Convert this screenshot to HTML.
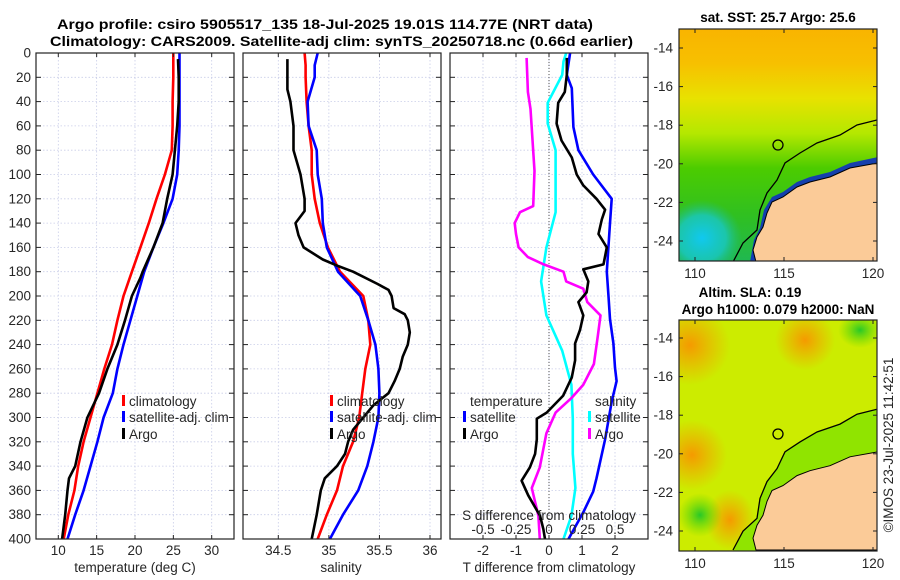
<!DOCTYPE html>
<html><head><meta charset="utf-8">
<style>
html,body{margin:0;padding:0;background:#fff;}
svg{display:block;font-family:"Liberation Sans",sans-serif;}
.tk{font-size:13.5px;fill:#262626;}
.ti{font-size:13.5px;font-weight:bold;fill:#000;}
</style></head>
<body>
<svg id="fig" width="900" height="580" viewBox="0 0 900 580" xmlns="http://www.w3.org/2000/svg">
<defs>
<clipPath id="clip1"><rect x="679" y="29" width="198" height="232"/></clipPath>
<clipPath id="clip2"><rect x="679" y="320" width="198" height="231"/></clipPath>
<linearGradient id="sst" x1="0" y1="0" x2="0" y2="1"><stop offset="0" stop-color="#f9b400"/><stop offset="0.15" stop-color="#f7c000"/><stop offset="0.3" stop-color="#e8e200"/><stop offset="0.45" stop-color="#b4e800"/><stop offset="0.6" stop-color="#4ccc00"/><stop offset="0.8" stop-color="#30c020"/><stop offset="1" stop-color="#20b850"/></linearGradient>
<radialGradient id="cy" cx="0.5" cy="0.5" r="0.5"><stop offset="0" stop-color="#10c8f0"/><stop offset="0.6" stop-color="#18c8c8" stop-opacity="0.8"/><stop offset="1" stop-color="#20c080" stop-opacity="0"/></radialGradient>
<radialGradient id="or" cx="0.5" cy="0.5" r="0.5"><stop offset="0" stop-color="#f59a00"/><stop offset="1" stop-color="#f5a000" stop-opacity="0"/></radialGradient>
<radialGradient id="gr" cx="0.5" cy="0.5" r="0.5"><stop offset="0" stop-color="#28c828"/><stop offset="1" stop-color="#60d800" stop-opacity="0"/></radialGradient>
</defs>
<text class="ti" x="57" y="29" textLength="536" lengthAdjust="spacingAndGlyphs">Argo profile: csiro 5905517_135 18-Jul-2025 19.01S 114.77E (NRT data)</text>
<text class="ti" x="50" y="46" textLength="583" lengthAdjust="spacingAndGlyphs">Climatology: CARS2009. Satellite-adj clim: synTS_20250718.nc (0.66d earlier)</text>
<g id="panels"></g>
<g id="maps"></g>
</svg>
<script>
// ---------- data ----------
const tDepth = [0,20,40,60,80,100,120,140,160,180,200,220,240,260,280,300,320,340,360,380,400];
const tClim  = [25.0,25.0,24.9,24.9,24.8,23.9,22.8,21.8,20.7,19.6,18.5,17.7,17.0,16.0,15.1,14.2,13.3,12.6,12.1,11.3,10.7];
const tSat   = [25.8,25.8,25.8,25.8,25.7,25.5,24.9,23.7,22.4,21.2,20.3,19.4,18.5,17.7,17.1,15.9,15.1,14.2,13.3,12.2,11.2];
const argoDepth = [5,20,40,60,80,100,120,140,160,180,185,200,220,240,260,280,300,320,340,350,360,380,400];
const tArgo  = [25.6,25.7,25.7,25.5,25.2,24.9,24.2,23.6,22.4,21.0,20.7,19.6,18.7,17.7,16.4,15.3,13.8,12.9,12.2,11.4,11.2,10.9,10.5];
const sDepth = [0,10,20,40,60,80,100,120,140,160,180,200,220,240,260,280,300,320,340,360,380,400];
const sClim  = [34.76,34.77,34.77,34.78,34.80,34.83,34.83,34.86,34.91,34.99,35.11,35.34,35.39,35.41,35.36,35.33,35.30,35.24,35.14,35.08,34.98,34.89];
const sSat   = [34.89,34.86,34.86,34.79,34.80,34.88,34.89,34.93,34.94,34.98,35.09,35.31,35.39,35.46,35.49,35.50,35.49,35.44,35.38,35.29,35.14,35.01];
const sArgoDepth = [5,30,40,60,80,100,120,130,140,150,160,170,175,180,190,195,200,210,215,220,230,240,250,260,270,280,290,300,310,320,330,340,350,360,380,400];
const sArgo  = [34.59,34.59,34.62,34.65,34.65,34.72,34.76,34.76,34.67,34.70,34.75,34.94,35.08,35.24,35.48,35.59,35.62,35.64,35.75,35.78,35.80,35.78,35.73,35.70,35.65,35.59,35.44,35.34,35.24,35.19,35.16,35.08,34.96,34.92,34.88,34.83];
const dDepthT = [0,18,29,61,80,100,120,140,160,180,199,219,239,259,270,287,318,350,361,378,400];
const dTSat   = [0.64,0.54,0.69,0.74,0.89,1.34,1.90,1.85,1.80,1.75,1.80,1.85,1.95,2.00,2.05,1.90,1.70,1.44,1.34,1.04,0.59];
const dDepthTA = [4,18,32,41,58,72,86,100,109,120,129,137,149,160,174,178,188,197,205,216,228,239,253,267,282,296,301,318,330,341,352,364,381,392,400];
const dTArgo   = [0.54,0.54,0.48,0.28,0.23,0.38,0.69,0.84,1.04,1.44,1.70,1.60,1.50,1.75,1.65,1.04,1.19,1.14,0.89,1.04,0.94,0.79,0.79,0.69,0.43,-0.07,-0.37,-0.37,-0.42,-0.58,-0.83,-0.63,-0.27,-0.17,-0.12];
const dDepthS = [0,7,18,41,58,80,103,131,160,188,216,245,273,301,330,358,381,400];
const dSSat   = [0.13,0.11,0.10,-0.01,-0.01,0.05,0.05,0.05,-0.02,-0.06,-0.02,0.10,0.17,0.18,0.18,0.20,0.17,0.11];
const dDepthSA = [4,32,46,97,126,131,140,149,160,168,174,180,188,194,205,216,233,256,273,284,296,313,341,358,381,400];
const dSArgo   = [-0.17,-0.16,-0.14,-0.11,-0.12,-0.22,-0.26,-0.25,-0.23,-0.16,-0.04,0.11,0.13,0.26,0.29,0.39,0.37,0.34,0.26,0.17,0.05,-0.02,-0.07,-0.13,-0.08,-0.07];
const depthTicks = [0,20,40,60,80,100,120,140,160,180,200,220,240,260,280,300,320,340,360,380,400];
const tempTicks = [10,15,20,25,30];
const salTicks = [34.5,35,35.5,36];
const dTTicks = [-2,-1,0,1,2];
const dSTicks = [-0.5,-0.25,0,0.25,0.5];
const dSTickLabels = ['-0.5','-0.25','0','0.25','0.5'];
const lonTicks = [110,115,120];
const latTicks = [-14,-16,-18,-20,-22,-24];

// ---------- helpers ----------
const NS='http://www.w3.org/2000/svg';
function mk(tag, attrs, parent){const e=document.createElementNS(NS,tag);for(const k in attrs)e.setAttribute(k,attrs[k]);(parent||document.getElementById('panels')).appendChild(e);return e;}
const Y0=53, Y1=539;
const yS = d => Y0 + d/400*(Y1-Y0);
function lin(d0,d1,r0,r1){return v=>r0+(v-d0)/(d1-d0)*(r1-r0);}
const P1={x0:36,x1:234}, P2={x0:243,x1:441}, P3={x0:450,x1:648};
const xT = lin(10,30,58.3,211.7);
const xS = lin(34.5,36,278.3,430);
const xDT = lin(-2,2,483,615);
const xDS = v => xDT(v*4);

function frame(P,name){
  const g=mk('g',{});
  
  
  return g;
}
function grid(g,P,xs,xf){
  depthTicks.forEach(d=>{mk('line',{x1:P.x0,x2:P.x1,y1:yS(d),y2:yS(d),stroke:'#c9cde8','stroke-width':0.8,'stroke-dasharray':'1.5,2'},g);});
  xs.forEach(v=>{mk('line',{x1:xf(v),x2:xf(v),y1:Y0,y2:Y1,stroke:'#c9cde8','stroke-width':0.8,'stroke-dasharray':'1.5,2'},g);});
}
function box(g,P,xs,xf){
  depthTicks.forEach(d=>{mk('line',{x1:P.x0,x2:P.x0+5,y1:yS(d),y2:yS(d),stroke:'#222','stroke-width':1},g);mk('line',{x1:P.x1-5,x2:P.x1,y1:yS(d),y2:yS(d),stroke:'#222','stroke-width':1},g);});
  xs.forEach(v=>{mk('line',{x1:xf(v),x2:xf(v),y1:Y1,y2:Y1-4,stroke:'#222','stroke-width':1},g);mk('line',{x1:xf(v),x2:xf(v),y1:Y0,y2:Y0+4,stroke:'#222','stroke-width':1},g);});
  mk('rect',{x:P.x0,y:Y0,width:P.x1-P.x0,height:Y1-Y0,fill:'none',stroke:'#222','stroke-width':1.2},g);
}
function series(g,depths,vals,xf,color,name){
  const pts=depths.map((d,i)=>xf(vals[i]).toFixed(1)+','+yS(d).toFixed(1)).join(' ');
  const p=mk('polyline',{points:pts,fill:'none',stroke:color,'stroke-width':2.6,'stroke-linejoin':'round'},g);
  
  
}
function txt(g,x,y,s,cls,anchor,name){
  const t=mk('text',{x:x,y:y,class:cls||'tk','text-anchor':anchor||'start'},g);t.textContent=s;
  
  
  return t;
}
function legendEntry(g,x,y,color,label){
  const r=mk('rect',{x:x,y:y-6,width:3,height:11,fill:color},g);
  
  
  txt(g,x+7,y+5,label,'tk','start','legend-entry');
}

// ---------- panel 1: temperature ----------
let g=frame(P1,'temperature-panel');
grid(g,P1,tempTicks,xT);
series(g,tDepth,tClim,xT,'#ff0000','climatology-temp-line');
series(g,tDepth,tSat,xT,'#0000ff','satellite-temp-line');
series(g,argoDepth,tArgo,xT,'#000000','argo-temp-line');
box(g,P1,tempTicks,xT);
depthTicks.forEach(d=>txt(g,31,yS(d)+4.5,String(d),'tk','end','y-tick-label'));
tempTicks.forEach(v=>txt(g,xT(v),555,String(v),'tk','middle','x-tick-label'));
txt(g,135,572,'temperature (deg C)','tk','middle','x-axis-title');
legendEntry(g,122,401,'#ff0000','climatology');
legendEntry(g,122,417,'#0000ff','satellite-adj. clim');
legendEntry(g,122,434,'#000000','Argo');

// ---------- panel 2: salinity ----------
g=frame(P2,'salinity-panel');
grid(g,P2,salTicks,xS);
series(g,sDepth,sClim,xS,'#ff0000','climatology-sal-line');
series(g,sDepth,sSat,xS,'#0000ff','satellite-sal-line');
series(g,sArgoDepth,sArgo,xS,'#000000','argo-sal-line');
box(g,P2,salTicks,xS);
salTicks.forEach(v=>txt(g,xS(v),555,String(v),'tk','middle','x-tick-label'));
txt(g,341,572,'salinity','tk','middle','x-axis-title');
legendEntry(g,330,401,'#ff0000','climatology');
legendEntry(g,330,417,'#0000ff','satellite-adj. clim');
legendEntry(g,330,434,'#000000','Argo');

// ---------- panel 3: differences ----------
g=frame(P3,'difference-panel');
grid(g,P3,dTTicks,xDT);
mk('line',{x1:xDT(0),x2:xDT(0),y1:Y0,y2:Y1,stroke:'#555','stroke-width':1,'stroke-dasharray':'1,2'},g);
series(g,dDepthS,dSSat,xDS,'#00ffff','satellite-sal-diff-line');
series(g,dDepthT,dTSat,xDT,'#0000ff','satellite-temp-diff-line');
series(g,dDepthSA,dSArgo,xDS,'#ff00ff','argo-sal-diff-line');
series(g,dDepthTA,dTArgo,xDT,'#000000','argo-temp-diff-line');
box(g,P3,dTTicks,xDT);
dTTicks.forEach(v=>txt(g,xDT(v),555,String(v),'tk','middle','x-tick-label'));
txt(g,549,572,'T difference from climatology','tk','middle','x-axis-title');
txt(g,549,520,'S difference from climatology','tk','middle','s-axis-title');
dSTicks.forEach((v,i)=>txt(g,xDS(v),534,dSTickLabels[i],'tk','middle','s-tick-label'));
txt(g,470,406,'temperature','tk','start','legend-title-temperature');
legendEntry(g,463,417,'#0000ff','satellite');
legendEntry(g,463,434,'#000000','Argo');
txt(g,595,406,'salinity','tk','start','legend-title-salinity');
legendEntry(g,588,417,'#00ffff','satellite');
legendEntry(g,588,434,'#ff00ff','Argo');

// ---------- maps ----------
const M=document.getElementById('maps');
function mapAxes(gm,top,bot,latTop){
  const lonX=lin(110,120,695,873);
  const latY=lin(-14,-24,latTop,latTop+193);
  latTicks.forEach(v=>{txt(gm,673,latY(v)+4.5,String(v),'tk','end','lat-tick-label');
    mk('line',{x1:679,x2:683,y1:latY(v),y2:latY(v),stroke:'#222'},gm);mk('line',{x1:873,x2:877,y1:latY(v),y2:latY(v),stroke:'#222'},gm);});
  lonTicks.forEach(v=>{txt(gm,lonX(v),bot+17,String(v),'tk','middle','lon-tick-label');
    mk('line',{x1:lonX(v),x2:lonX(v),y1:bot,y2:bot-4,stroke:'#222'},gm);mk('line',{x1:lonX(v),x2:lonX(v),y1:top,y2:top+4,stroke:'#222'},gm);});
}
function land(gm,dy,scaleY){
  const f=y=>dy+(y-29)*scaleY;
  const pts=[[878,163],[850,168],[830,177],[810,182],[797,187],[783,197],[772,202],[767,213],[763,227],[757,237],[753,250],[756,262],[878,262]];
  mk('polygon',{points:pts.map(p=>p[0]+','+f(p[1]).toFixed(1)).join(' '),fill:'#fbcb98',stroke:'#000','stroke-width':1},gm);
  const shelf=[[877,120],[857,125],[840,135],[817,143],[800,153],[785,163],[777,180],[767,193],[760,210],[757,230],[743,243],[733,262]];
  mk('polyline',{points:shelf.map(p=>p[0]+','+f(p[1]).toFixed(1)).join(' '),fill:'none',stroke:'#000','stroke-width':1.3},gm);
  mk('circle',{cx:778,cy:f(145),r:5,fill:'none',stroke:'#000','stroke-width':1.3},gm);
}
// map 1
let gm=mk('g',{},M);


let gc=mk('g',{'clip-path':'url(#clip1)'},gm);
mk('rect',{x:679,y:29,width:198,height:232,fill:'url(#sst)'},gc);
mk('ellipse',{cx:702,cy:238,rx:40,ry:38,fill:'url(#cy)'},gc);
mk('path',{d:'M878,157 L850,163 L830,172 L810,177 L797,182 L783,192 L772,197 L764,210 L760,228 L754,240 L750,262 L757,262 L753,250 L757,237 L763,227 L767,213 L772,202 L783,197 L797,187 L810,182 L830,177 L850,168 L878,163 Z',fill:'#1030c0',opacity:0.9},gc);
land(gc,29,1);
mk('rect',{x:679,y:29,width:198,height:232,fill:'none',stroke:'#222','stroke-width':1.2},gm);
mapAxes(gm,29,261,48);
txt(gm,778,22,'sat. SST: 25.7 Argo: 25.6','ti','middle','sst-map-title');
// map 2
gm=mk('g',{},M);


gc=mk('g',{'clip-path':'url(#clip2)'},gm);
mk('rect',{x:679,y:320,width:198,height:231,fill:'#ccec00'},gc);
mk('ellipse',{cx:690,cy:345,rx:40,ry:40,fill:'url(#or)'},gc);
mk('ellipse',{cx:805,cy:340,rx:30,ry:30,fill:'url(#or)'},gc);
mk('ellipse',{cx:692,cy:455,rx:35,ry:35,fill:'url(#or)'},gc);
mk('ellipse',{cx:730,cy:520,rx:25,ry:30,fill:'url(#or)'},gc);
mk('ellipse',{cx:860,cy:330,rx:22,ry:18,fill:'url(#gr)'},gc);
mk('ellipse',{cx:700,cy:515,rx:22,ry:22,fill:'url(#gr)'},gc);
mk('path',{d:'M877,409 L857,414 L840,424 L817,432 L800,442 L785,452 L777,469 L767,482 L760,499 L757,519 L743,532 L733,552 L878,552 Z',fill:'#90e400'},gc);
land(gc,319,230/232);
mk('rect',{x:679,y:320,width:198,height:231,fill:'none',stroke:'#222','stroke-width':1.2},gm);
mapAxes(gm,320,551,338);
txt(gm,750,297,'Altim. SLA: 0.19','ti','middle','sla-map-title');
txt(gm,778,314,'Argo h1000: 0.079 h2000: NaN','ti','middle','sla-map-subtitle');
const cr=txt(gm,0,0,'©IMOS 23-Jul-2025 11:42:51','tk','middle','copyright-label');
cr.setAttribute('transform','translate(893,445) rotate(-90)');
cr.setAttribute('font-size','14');
</script>
</body></html>
